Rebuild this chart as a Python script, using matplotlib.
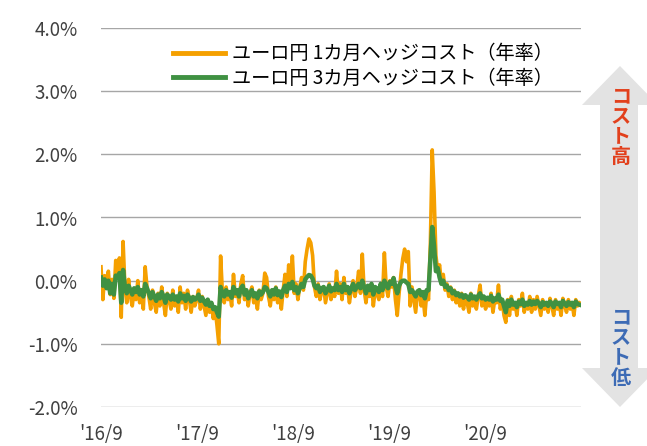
import numpy as np
import pandas as pd
import matplotlib
matplotlib.use('Agg')
import matplotlib.pyplot as plt
from matplotlib.patches import Polygon

plt.rcParams['font.family'] = ['Noto Sans CJK JP', 'DejaVu Sans']

# weekly values, Sep 2016 -> Sep 2021 (percent, annualised)
hedge_1m = [
    0.22, -0.30, 0.08, -0.05, 0.15, -0.22, 0.02, -0.28, 0.32, 0.12, 0.36, -0.58, 0.62,
    -0.10, -0.35, 0.02, -0.25, -0.40, -0.15, -0.30, 0.00, -0.35, -0.20, -0.45, 0.22, -0.10,
    -0.25, -0.45, -0.15, -0.35, -0.50, -0.20, -0.40, -0.10, -0.35, -0.55, -0.20, -0.30, -0.45,
    -0.15, -0.40, -0.25, -0.50, -0.10, -0.35, -0.20, -0.45, -0.15, -0.30, -0.50, -0.25, -0.40,
    -0.30, -0.15, -0.45, -0.25, -0.40, -0.55, -0.30, -0.50, -0.35, -0.60, -0.45, -0.70, -1.00,
    0.39, -0.20, -0.35, -0.10, -0.30, -0.20, -0.40, 0.10, -0.25, -0.15, -0.35, -0.05, 0.08,
    -0.30, -0.15, -0.40, -0.20, -0.10, -0.35, -0.25, -0.45, -0.15, -0.30, -0.20, 0.12, 0.05,
    -0.25, -0.40, -0.15, -0.30, -0.10, -0.35, -0.20, -0.45, -0.15, 0.10, -0.25, 0.25, -0.10,
    0.39, -0.20, -0.05, -0.30, -0.10, 0.05, -0.15, 0.30, 0.50, 0.66, 0.60, 0.40, -0.10,
    -0.25, -0.05, -0.30, -0.15, -0.10, -0.35, -0.20, -0.05, -0.30, -0.15, -0.25, 0.15, -0.20,
    -0.05, -0.30, 0.05, -0.20, -0.10, -0.35, -0.15, 0.00, -0.25, -0.10, 0.15, -0.20, 0.42,
    -0.15, -0.35, -0.10, -0.25, -0.05, -0.40, -0.15, -0.20, -0.30, -0.05, -0.25, 0.44, -0.10,
    -0.25, 0.00, -0.10, 0.05, -0.30, -0.55, -0.20, 0.10, 0.35, 0.50, 0.30, 0.46, -0.40,
    -0.10, -0.30, -0.50, -0.20, -0.15, -0.40, -0.25, -0.55, -0.20, -0.30, 0.60, 2.07, 1.40,
    0.40, 0.15, 0.25, -0.05, 0.10, -0.15, -0.05, -0.25, -0.10, -0.30, -0.15, -0.35, -0.20,
    -0.40, -0.20, -0.45, -0.25, -0.35, -0.50, -0.20, -0.40, -0.30, -0.45, -0.25, -0.07, -0.40,
    -0.25, -0.45, -0.30, -0.40, -0.20, -0.50, -0.30, -0.35, -0.07, -0.45, -0.30, -0.55, -0.66,
    -0.30, -0.55, -0.25, -0.45, -0.35, -0.55, -0.30, -0.40, -0.20, -0.50, -0.35, -0.45, -0.25,
    -0.50, -0.30, -0.45, -0.25, -0.40, -0.55, -0.30, -0.45, -0.35, -0.50, -0.28, -0.40, -0.55,
    -0.30, -0.45, -0.35, -0.55, -0.28, -0.40, -0.50, -0.30, -0.45, -0.35, -0.55, -0.30, -0.40,
    -0.35,
]
hedge_3m = [
    0.05, -0.08, 0.02, -0.12, 0.00, -0.20, -0.05, -0.22, 0.08, 0.05, 0.12, -0.35, 0.17,
    -0.10, -0.20, -0.08, -0.15, -0.22, -0.12, -0.18, -0.10, -0.22, -0.15, -0.25, -0.05, -0.12,
    -0.20, -0.28, -0.18, -0.25, -0.32, -0.22, -0.28, -0.18, -0.25, -0.35, -0.22, -0.25, -0.30,
    -0.22, -0.30, -0.25, -0.33, -0.20, -0.28, -0.24, -0.32, -0.22, -0.27, -0.33, -0.26, -0.30,
    -0.28, -0.22, -0.32, -0.27, -0.33, -0.38, -0.30, -0.40, -0.35, -0.45, -0.42, -0.50, -0.57,
    -0.10, -0.20, -0.25, -0.15, -0.22, -0.18, -0.27, -0.10, -0.20, -0.15, -0.25, -0.12, -0.08,
    -0.22, -0.15, -0.28, -0.20, -0.15, -0.25, -0.20, -0.28, -0.17, -0.22, -0.18, -0.10, -0.12,
    -0.18, -0.25, -0.15, -0.22, -0.12, -0.23, -0.17, -0.26, -0.15, -0.08, -0.18, -0.05, -0.12,
    -0.02, -0.15, -0.10, -0.20, -0.12, -0.05, -0.10, 0.02, 0.06, 0.09, 0.08, 0.03, -0.08,
    -0.12, -0.08, -0.18, -0.12, -0.10, -0.20, -0.15, -0.08, -0.17, -0.12, -0.15, -0.05, -0.15,
    -0.10, -0.18, -0.05, -0.15, -0.10, -0.20, -0.12, -0.05, -0.15, -0.10, -0.05, -0.12, 0.00,
    -0.10, -0.20, -0.08, -0.15, -0.05, -0.22, -0.10, -0.13, -0.18, -0.05, -0.15, 0.00, -0.08,
    -0.12, -0.02, -0.05, 0.04, -0.10, -0.20, -0.08, -0.02, 0.00, 0.00, -0.03, -0.05, -0.18,
    -0.15, -0.20, -0.25, -0.17, -0.15, -0.23, -0.18, -0.28, -0.15, -0.15, 0.35, 0.85, 0.55,
    0.15, 0.20, 0.05, -0.05, 0.00, -0.10, -0.08, -0.15, -0.12, -0.20, -0.17, -0.23, -0.20,
    -0.25, -0.22, -0.27, -0.23, -0.26, -0.30, -0.22, -0.28, -0.25, -0.30, -0.24, -0.20, -0.28,
    -0.25, -0.30, -0.27, -0.30, -0.24, -0.33, -0.28, -0.30, -0.22, -0.32, -0.30, -0.40, -0.50,
    -0.32, -0.40, -0.30, -0.38, -0.35, -0.42, -0.33, -0.37, -0.30, -0.40, -0.35, -0.38, -0.32,
    -0.38, -0.33, -0.37, -0.32, -0.36, -0.42, -0.34, -0.38, -0.35, -0.40, -0.33, -0.36, -0.42,
    -0.33, -0.37, -0.35, -0.42, -0.32, -0.36, -0.40, -0.34, -0.38, -0.35, -0.42, -0.33, -0.37,
    -0.38,
]
dates = pd.date_range('2016-09-01', periods=len(hedge_1m), freq='7D')

xtick_dates = ['2016-09-01', '2017-09-01', '2018-09-01', '2019-09-01', '2020-09-01']
xtick_labels = ["'16/9", "'17/9", "'18/9", "'19/9", "'20/9"]
ytick_vals = [-2, -1, 0, 1, 2, 3, 4]
labels = ['ユーロ円 1カ月ヘッジコスト（年率）', 'ユーロ円 3カ月ヘッジコスト（年率）']

fig = plt.figure(figsize=(6.47, 4.46), dpi=100)
ax = fig.add_axes([101 / 647, 1 - 407 / 446, 480 / 647, 379 / 446])

ax.plot(dates, hedge_1m, color='#F5A000', lw=2.6, label=labels[0], zorder=3)
ax.plot(dates, hedge_3m, color='#3F9142', lw=3.2, label=labels[1], zorder=4)

ax.set_ylim(-2, 4)
ax.set_xlim(pd.Timestamp('2016-09-01'), pd.Timestamp('2021-09-01'))
ax.set_yticks(ytick_vals)
ax.set_yticklabels([f'{v:.1f}%' for v in ytick_vals], fontsize=13.5, color='#404040')
ax.set_xticks(pd.to_datetime(xtick_dates))
ax.set_xticklabels(xtick_labels, fontsize=13.5, color='#404040')
ax.tick_params(axis='y', length=0, pad=17)
ax.tick_params(axis='x', length=0, pad=12)
ax.grid(axis='y', color='#a6a6a6', lw=1)
ax.set_axisbelow(True)
for s in ax.spines.values():
    s.set_visible(False)

leg = ax.legend(loc='upper left', bbox_to_anchor=(0.115, 1.005), frameon=False,
                fontsize=13.8, handlelength=2.7, handletextpad=0.35, labelspacing=0.2)
for line in leg.get_lines():
    line.set_linewidth(3.5)

# overlay in pixel coordinates for the double arrow on the right
ov = fig.add_axes([0, 0, 1, 1], facecolor='none')
ov.set_xlim(0, 647)
ov.set_ylim(446, 0)
ov.axis('off')
arrow = [(620, 66), (658, 105), (638, 105), (638, 368), (658, 368), (620, 407),
         (582, 368), (600, 368), (600, 105), (582, 105)]
ov.add_patch(Polygon(arrow, closed=True, facecolor='#e3e3e3', edgecolor='none'))
ov.text(621, 126, 'コ\nス\nト\n高', color='#E2401C', fontsize=14.5, fontweight='bold',
        ha='center', va='center', linespacing=0.95)
ov.text(621, 347, 'コ\nス\nト\n低', color='#3D6BB5', fontsize=14.5, fontweight='bold',
        ha='center', va='center', linespacing=0.95)

fig.savefig('out.png', dpi=100)
